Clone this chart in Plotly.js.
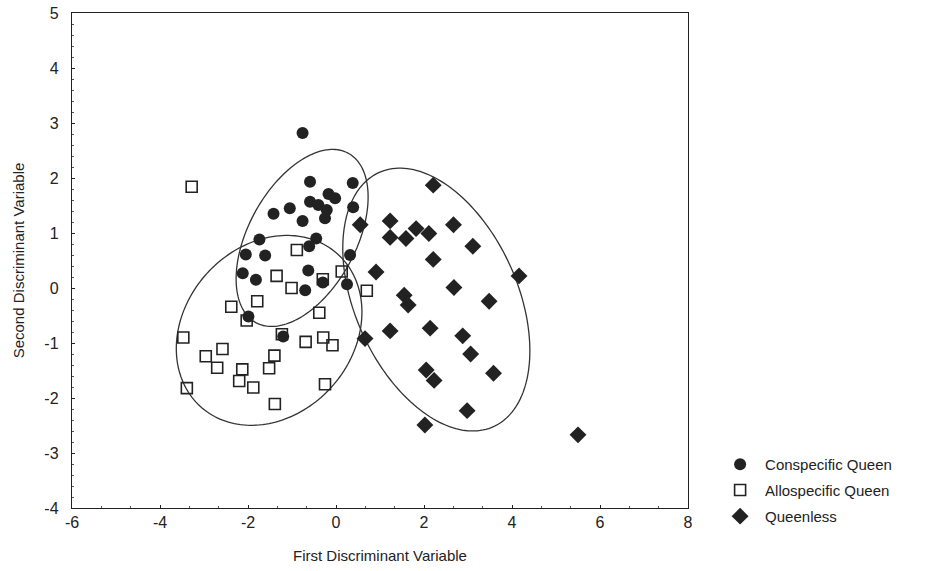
<!DOCTYPE html>
<html>
<head>
<meta charset="utf-8">
<script src="https://cdn.plot.ly/plotly-3.0.1.min.js"></script>
<style>html,body{margin:0;padding:0;background:#fff;}#chart{width:930px;height:571px;}</style>
</head>
<body>
<div id="chart"></div>
<script>
// Conspecific Queen (filled circles)
var conX = [-0.76, -0.59, 0.38, -0.17, -0.02, 0.39, -0.59, -0.40, -0.21, -0.25, -1.05, -1.42, -0.76, -0.45, -0.61, -1.74, -2.05, -1.61, 0.32, -2.12, -1.82, -0.63, -0.70, 0.25, -1.99, -1.20, -0.30];
var conY = [2.82, 1.93, 1.91, 1.71, 1.63, 1.47, 1.57, 1.51, 1.42, 1.27, 1.45, 1.35, 1.22, 0.90, 0.76, 0.88, 0.61, 0.59, 0.60, 0.27, 0.15, 0.32, -0.04, 0.07, -0.52, -0.88, 0.10];
// Allospecific Queen (open squares)
var alloX = [-3.28, -0.89, -1.35, -1.01, -0.30, 0.13, 0.70, -1.79, -2.38, -2.03, -0.38, -1.23, -3.47, -0.69, -0.29, -0.08, -2.58, -2.96, -2.70, -1.40, -1.52, -2.13, -2.20, -1.88, -3.39, -0.25, -1.39];
var alloY = [1.84, 0.69, 0.22, 0.00, 0.16, 0.30, -0.05, -0.24, -0.34, -0.59, -0.45, -0.84, -0.90, -0.98, -0.90, -1.04, -1.11, -1.24, -1.45, -1.23, -1.46, -1.48, -1.69, -1.81, -1.82, -1.75, -2.11];
// Queenless (filled diamonds)
var qlX = [0.55, 0.91, 0.66, 2.21, 1.23, 1.82, 2.11, 2.67, 1.23, 1.59, 3.11, 2.21, 4.16, 2.68, 1.55, 1.64, 3.48, 1.23, 2.14, 2.88, 3.06, 3.58, 2.05, 2.23, 2.98, 2.02, 5.50];
var qlY = [1.15, 0.29, -0.92, 1.87, 1.22, 1.08, 0.99, 1.15, 0.92, 0.90, 0.76, 0.52, 0.22, 0.01, -0.13, -0.31, -0.24, -0.78, -0.73, -0.87, -1.20, -1.55, -1.49, -1.68, -2.23, -2.49, -2.67];

var groupNames = ["Conspecific Queen", "Allospecific Queen", "Queenless"];
// Group ellipses: centre, variances and covariance (data units)
var ellCx = [-0.77, -1.52, 2.28];
var ellCy = [0.91, -0.77, -0.21];
var ellSxx = [2.25, 4.45, 4.52];
var ellSyy = [2.59, 2.98, 5.71];
var ellSxy = [1.116, 0.70, -1.98];

var xTicks = [-6, -4, -2, 0, 2, 4, 6, 8];
var yTicks = [-4, -3, -2, -1, 0, 1, 2, 3, 4, 5];

function ellipsePath(cx, cy, sxx, syy, sxy) {
  var a = Math.sqrt(sxx), b = sxy / a, c = Math.sqrt(syy - b * b);
  var s = '';
  for (var i = 0; i <= 180; i++) {
    var t = 2 * Math.PI * i / 180;
    var x = cx + a * Math.cos(t);
    var y = cy + b * Math.cos(t) + c * Math.sin(t);
    s += (i === 0 ? 'M' : 'L') + x.toFixed(4) + ',' + y.toFixed(4);
  }
  return s + 'Z';
}

var ink = '#222';
var traces = [
  {x: conX, y: conY, name: groupNames[0], type: 'scatter', mode: 'markers', legend: 'legend',
   marker: {symbol: 'circle', size: 12, color: ink, line: {width: 0}}},
  {x: alloX, y: alloY, name: groupNames[1], type: 'scatter', mode: 'markers', legend: 'legend2',
   marker: {symbol: 'square-open', size: 11, color: ink, line: {width: 1.6, color: ink}}},
  {x: qlX, y: qlY, name: groupNames[2], type: 'scatter', mode: 'markers', legend: 'legend3',
   marker: {symbol: 'diamond', size: 13, color: ink, line: {width: 0}}}
];

var shapes = [];
for (var k = 0; k < ellCx.length; k++) {
  shapes.push({type: 'path', xref: 'x', yref: 'y', layer: 'below',
    path: ellipsePath(ellCx[k], ellCy[k], ellSxx[k], ellSyy[k], ellSxy[k]),
    line: {color: '#333', width: 1.3}});
}

var fam = 'Liberation Sans, Arial, sans-serif';
var fnt = {family: fam, size: 15, color: ink};
var legBase = {xanchor: 'left', yanchor: 'middle', x: 1.044, bgcolor: 'rgba(0,0,0,0)',
  font: {family: fam, size: 15, color: ink}, itemwidth: 40};

var layout = {
  width: 930, height: 571,
  margin: {l: 72, r: 242, t: 13, b: 63},
  paper_bgcolor: '#fff', plot_bgcolor: '#fff',
  font: fnt,
  showlegend: true,
  legend: Object.assign({}, legBase, {y: 0.088}),
  legend2: Object.assign({}, legBase, {y: 0.036}),
  legend3: Object.assign({}, legBase, {y: -0.017}),
  xaxis: {range: [-6, 8], tickvals: xTicks, ticktext: xTicks.map(String), showgrid: false, zeroline: false,
    showline: true, mirror: true, linecolor: ink, linewidth: 1.2,
    ticks: 'inside', ticklen: 3, tickcolor: ink,
    minor: {dtick: 2/3, ticks: 'inside', ticklen: 2, tickcolor: '#555', showgrid: false},
    tickfont: {family: fam, size: 16, color: ink},
    title: {text: 'First Discriminant Variable', font: {family: fam, size: 15, color: ink}, standoff: 20}},
  yaxis: {range: [-4, 5], tickvals: yTicks, ticktext: yTicks.map(String), showgrid: false, zeroline: false,
    showline: true, mirror: true, linecolor: ink, linewidth: 1.2,
    ticks: 'inside', ticklen: 3, tickcolor: ink, ticklabelstandoff: 9,
    minor: {dtick: 0.2, ticks: 'inside', ticklen: 2, tickcolor: '#555', showgrid: false},
    tickfont: {family: fam, size: 16, color: ink},
    title: {text: 'Second Discriminant Variable', font: {family: fam, size: 15, color: ink}, standoff: 16}},
  shapes: shapes
};

Plotly.newPlot('chart', traces, layout, {displayModeBar: false, staticPlot: true});
</script>
</body>
</html>
